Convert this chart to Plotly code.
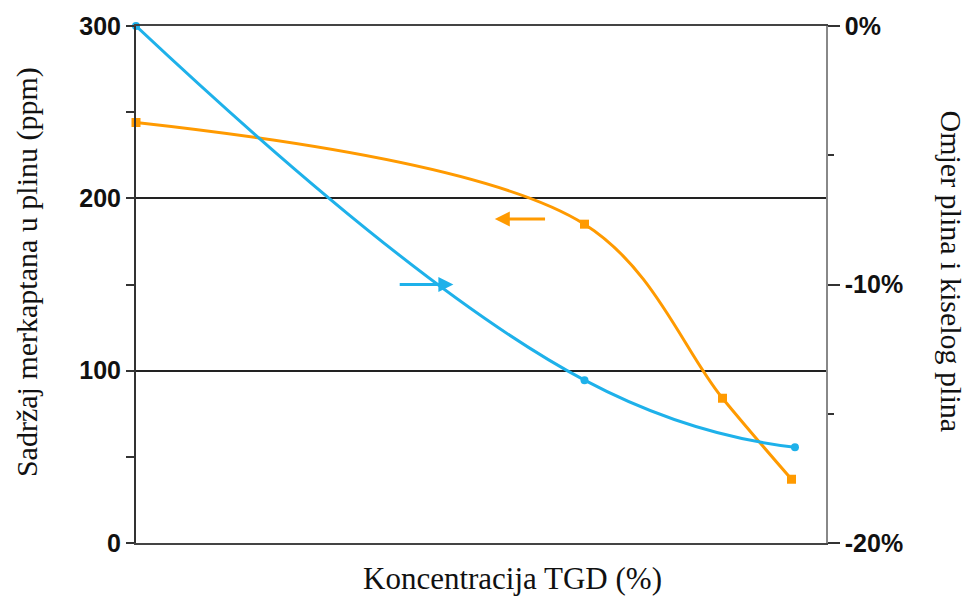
import plotly.graph_objects as go

# data
x_orange = [0, 6.5, 8.5, 9.5]
merkaptan_ppm = [244, 185, 84, 37]
x_blue = [0, 6.5, 9.55]
omjer_pct = [0, -13.7, -16.3]

left_ticks = [0, 100, 200, 300]
right_ticks = [-20, -10, 0]
right_labels = ["-20%", "-10%", "0%"]

ORANGE = "#FF9A00"
BLUE = "#1EB1EA"

fig = go.Figure()
fig.add_trace(go.Scatter(
    x=x_orange, y=merkaptan_ppm, mode="lines+markers",
    line=dict(color=ORANGE, width=3, shape="spline", smoothing=1.0),
    marker=dict(symbol="square", size=9, color=ORANGE),
    yaxis="y", showlegend=False, cliponaxis=False))
fig.add_trace(go.Scatter(
    x=x_blue, y=omjer_pct, mode="lines+markers",
    line=dict(color=BLUE, width=3, shape="spline", smoothing=1.3),
    marker=dict(symbol="circle", size=8, color=BLUE),
    yaxis="y2", showlegend=False, cliponaxis=False))

tickfont = dict(family="Liberation Sans, Arial", size=25, color="#111", weight="bold")

fig.update_layout(
    width=968, height=596,
    margin=dict(l=136, r=142, t=24, b=53),
    paper_bgcolor="white", plot_bgcolor="white",
    xaxis=dict(range=[0, 10], showticklabels=False, ticks="", showgrid=False,
               zeroline=False, showline=True, mirror=True, linecolor="#444", linewidth=2),
    yaxis=dict(range=[0, 300], tickvals=left_ticks, ticks="outside", ticklen=8,
               tickcolor="#333", tickwidth=1.5,
               showline=True, linecolor="#333", linewidth=2,
               showgrid=True, gridcolor="#222", gridwidth=1.5, zeroline=False,
               tickfont=tickfont,
               minor=dict(dtick=50, ticks="outside", ticklen=8, tickcolor="#333",
                          showgrid=False)),
    yaxis2=dict(range=[-20, 0], overlaying="y", side="right",
                tickvals=right_ticks, ticktext=right_labels,
                ticks="outside", ticklen=12, tickcolor="#333", tickwidth=1.5,
                showline=True, linecolor="#888", linewidth=1.5,
                showgrid=False, zeroline=False, tickfont=tickfont,
                minor=dict(dtick=5, ticks="outside", ticklen=6, tickcolor="#333")),
)

serif = dict(family="Liberation Serif, Times New Roman", size=30, color="#111")
serif_x = dict(family="Liberation Serif, Times New Roman", size=31, color="#111")

fig.add_annotation(text="Sadržaj merkaptana u plinu (ppm)", xref="paper", yref="paper",
                   x=-0.158, y=0.524, xanchor="center", yanchor="middle",
                   textangle=-90, showarrow=False, font=serif)
fig.add_annotation(text="Omjer plina i kiselog plina", xref="paper", yref="paper",
                   x=1.182, y=0.526, xanchor="center", yanchor="middle",
                   textangle=90, showarrow=False, font=serif)
fig.add_annotation(text="Koncentracija TGD (%)", xref="paper", yref="paper",
                   x=0.545, y=-0.068, xanchor="center", yanchor="middle",
                   showarrow=False, font=serif_x)

# direction arrows
fig.add_annotation(x=5.2, y=188, ax=5.95, ay=188, xref="x", yref="y", axref="x", ayref="y",
                   text="", showarrow=True, arrowhead=2, arrowsize=1, arrowwidth=3,
                   arrowcolor=ORANGE)
fig.add_annotation(x=4.6, y=150, ax=3.8, ay=150, xref="x", yref="y", axref="x", ayref="y",
                   text="", showarrow=True, arrowhead=2, arrowsize=1, arrowwidth=3,
                   arrowcolor=BLUE)

fig.write_html("out.html", config={"displayModeBar": False},
               post_script="document.body.style.margin='0';")
